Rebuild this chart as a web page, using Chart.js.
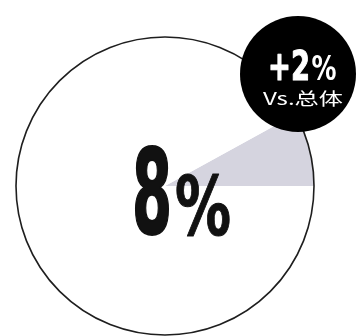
<!DOCTYPE html>
<html>
<head>
<meta charset="utf-8">
<script src="https://cdn.jsdelivr.net/npm/chart.js@4"></script>
<style>
  html, body { margin: 0; padding: 0; background: #ffffff; }
  #wrap { width: 358px; height: 336px; position: relative; }
</style>
</head>
<body>
<div id="wrap"><canvas id="c" width="358" height="336"></canvas></div>
<script>
// Share of the group versus the rest
const categories = ['占比', '其他'];
const shareValues = [8, 92];
// Difference against the overall population, in percentage points
const deltaValues = [2];
const deltaLabels = ['Vs.总体'];

const sliceColors = ['#d5d4df', '#ffffff'];

// Start the highlighted slice so that it ends exactly at 3 o'clock
const startRotation = 90 - shareValues[0] / (shareValues[0] + shareValues[1]) * 360;

const FONT_BOLD = '"DejaVu Sans Condensed", "DejaVu Sans", sans-serif';

// Draws text squeezed horizontally so it fits the given width
function drawFitted(ctx, text, cx, baseline, width, font, color, thicken) {
  ctx.save();
  ctx.font = font;
  ctx.fillStyle = color;
  ctx.strokeStyle = color;
  ctx.lineJoin = 'round';
  ctx.textBaseline = 'alphabetic';
  ctx.textAlign = 'left';
  const w = ctx.measureText(text).width;
  const sx = width / w;
  ctx.translate(cx - width / 2, baseline);
  ctx.scale(sx, 1);
  ctx.fillText(text, 0, 0);
  if (thicken) {
    ctx.lineWidth = thicken;
    ctx.strokeText(text, 0, 0);
  }
  ctx.restore();
}

const decorations = {
  id: 'decorations',
  afterDatasetsDraw(chart) {
    const ctx = chart.ctx;
    const arc = chart.getDatasetMeta(0).data[0];
    const cx = arc.x, cy = arc.y, r = arc.outerRadius;

    // outline of the whole pie
    ctx.save();
    ctx.beginPath();
    ctx.arc(cx, cy, r, 0, Math.PI * 2);
    ctx.lineWidth = 1.6;
    ctx.strokeStyle = '#1e1e1e';
    ctx.stroke();
    ctx.restore();

    // headline percentage
    drawFitted(ctx, String(shareValues[0]), cx - 13, cy + 47, 40, 'bold 118px ' + FONT_BOLD, '#111111', 2);
    drawFitted(ctx, '%', cx + 38, cy + 49, 56, 'bold 82px ' + FONT_BOLD, '#111111', 1);

    // comparison badge
    const bx = 298, by = 74, br = 58;
    ctx.save();
    ctx.beginPath();
    ctx.arc(bx, by, br, 0, Math.PI * 2);
    ctx.fillStyle = '#000000';
    ctx.fill();
    ctx.restore();

    const sign = deltaValues[0] >= 0 ? '+' : '';
    drawFitted(ctx, sign + deltaValues[0], bx - 9, by + 6, 42, 'bold 41px ' + FONT_BOLD, '#ffffff', 1);
    drawFitted(ctx, '%', bx + 26, by + 6, 25, 'bold 34px ' + FONT_BOLD, '#ffffff');
    drawFitted(ctx, deltaLabels[0], bx + 5, by + 31, 80, '17px "Noto Sans CJK SC", "Noto Sans", sans-serif', '#ffffff');
  }
};

new Chart(document.getElementById('c'), {
  type: 'pie',
  data: {
    labels: categories,
    datasets: [{
      data: shareValues,
      backgroundColor: sliceColors,
      borderWidth: 0,
      hoverOffset: 0
    }]
  },
  options: {
    responsive: false,
    animation: false,
    rotation: startRotation,
    layout: { padding: { left: 16, right: 44, top: 37, bottom: 1 } },
    plugins: {
      legend: { display: false },
      tooltip: { enabled: false }
    }
  },
  plugins: [decorations]
});
</script>
</body>
</html>
